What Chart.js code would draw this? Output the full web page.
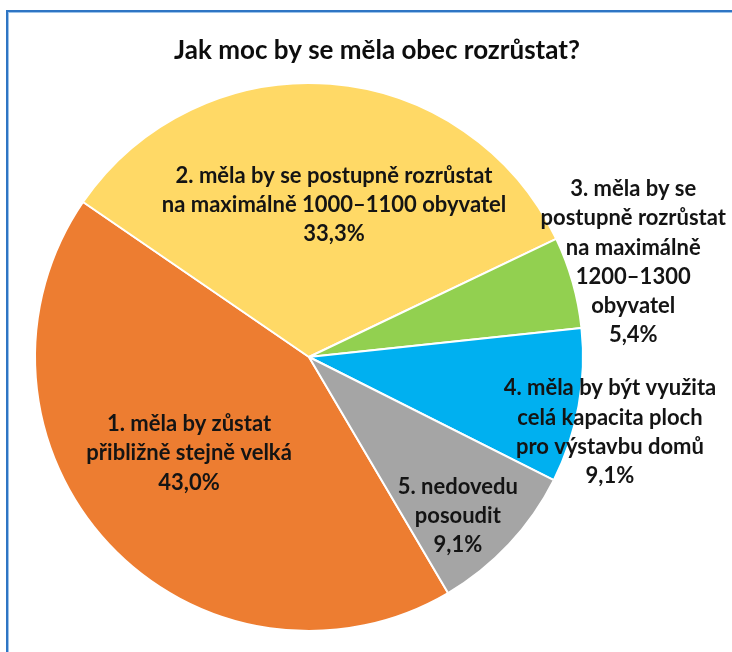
<!DOCTYPE html>
<html lang="cs">
<head>
  <meta charset="UTF-8">
  <title>Jak moc by se měla obec rozrůstat?</title>
  <script src="https://cdn.jsdelivr.net/npm/chart.js"></script>
  <style>
    html, body { margin: 0; padding: 0; background: #fff; overflow: hidden; }
    #frame {
      position: absolute; left: 6px; top: 10px; width: 800px; height: 700px;
      border: 2px solid #2e75c4; box-shadow: inset 1px 1px 0 #9cc3ea;
    }
    #pieChart { position: absolute; left: 0; top: 0; }
  </style>
</head>
<body>
  <div id="frame"></div>
  <canvas id="pieChart" width="732" height="652"></canvas>
  <script>
    const chartTitle = 'Jak moc by se měla obec rozrůstat?';
    const categories = [
      '1. měla by zůstat přibližně stejně velká',
      '2. měla by se postupně rozrůstat na maximálně 1000–1100 obyvatel',
      '3. měla by se postupně rozrůstat na maximálně 1200–1300 obyvatel',
      '4. měla by být využita celá kapacita ploch pro výstavbu domů',
      '5. nedovedu posoudit'
    ];
    // how each category label is wrapped on the chart
    const labelLines = [
      ['1. měla by zůstat', 'přibližně stejně velká'],
      ['2. měla by se postupně rozrůstat', 'na maximálně 1000–1100 obyvatel'],
      ['3. měla by se', 'postupně rozrůstat', 'na maximálně', '1200–1300', 'obyvatel'],
      ['4. měla by být využita', 'celá kapacita ploch', 'pro výstavbu domů'],
      ['5. nedovedu', 'posoudit']
    ];
    const shares = [43.0, 33.3, 5.4, 9.1, 9.1];
    const sliceColors = ['#ed7d31', '#ffd966', '#92d050', '#00b0f0', '#a5a5a5'];

    // label placement: distance from centre (x radius) and turn from slice middle (deg)
    const labelRadius = [0.561, 0.562, 1.233, 1.132, 0.795];
    const labelTurn = [4.3, 4.9, -0.5, 3.7, 3.8];

    const FONT = 'Lato, "Open Sans", sans-serif';

    const pctText = v => v.toFixed(1).replace('.', ',') + '%';

    const labelPlugin = {
      id: 'sliceLabels',
      afterDatasetsDraw(chart) {
        const ctx = chart.ctx;
        const meta = chart.getDatasetMeta(0);
        ctx.save();
        ctx.fillStyle = '#141414';
        ctx.font = 'bold 22px ' + FONT;
        ctx.textAlign = 'center';
        ctx.textBaseline = 'middle';
        const lh = 29.3;
        meta.data.forEach((arc, i) => {
          const p = arc.getProps(['x', 'y', 'startAngle', 'endAngle', 'outerRadius'], true);
          const mid = (p.startAngle + p.endAngle) / 2 + labelTurn[i] * Math.PI / 180;
          const r = p.outerRadius * labelRadius[i];
          const cx = p.x + Math.cos(mid) * r;
          const cy = p.y + Math.sin(mid) * r;
          const lines = labelLines[i].concat([pctText(shares[i])]);
          const top = cy - (lines.length - 1) * lh / 2;
          lines.forEach((t, k) => ctx.fillText(t, cx, top + k * lh));
        });
        // chart title
        ctx.fillStyle = '#0d0d0d';
        ctx.font = 'bold 26px ' + FONT;
        ctx.fillText(chartTitle, 377, 51);
        ctx.restore();
      }
    };

    new Chart(document.getElementById('pieChart').getContext('2d'), {
      type: 'pie',
      data: {
        labels: categories,
        datasets: [{
          data: shares,
          backgroundColor: sliceColors,
          borderColor: '#ffffff',
          borderWidth: 2
        }]
      },
      options: {
        responsive: false,
        animation: false,
        rotation: 149.5,
        layout: { padding: { left: 34, top: 82, right: 148, bottom: 20 } },
        plugins: {
          legend: { display: false },
          tooltip: { enabled: false },
          title: { display: false }
        }
      },
      plugins: [labelPlugin]
    });
  </script>
</body>
</html>
